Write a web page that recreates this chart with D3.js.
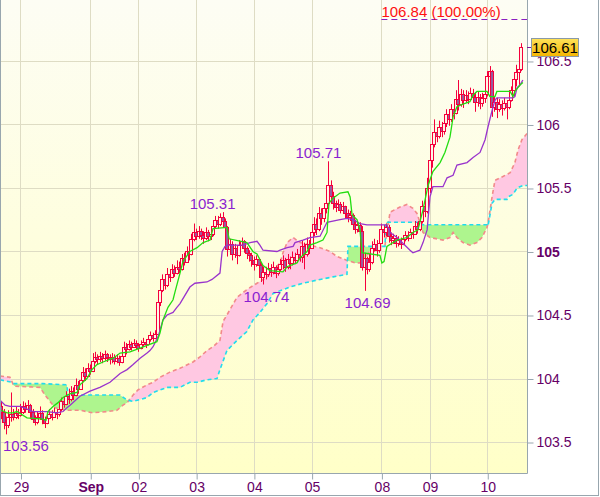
<!DOCTYPE html>
<html><head><meta charset="utf-8">
<script src="https://cdn.jsdelivr.net/npm/d3@7"></script>
<style>
body{margin:0;background:#fff;}
text{font-family:"Liberation Sans",Arial,sans-serif;}
</style>
</head><body>
<svg id="chart" width="600" height="497"></svg>
<script>
// ---------------- DATA ----------------
const opens=[103.78,103.74,103.66,103.63,103.70,103.72,103.70,103.73,103.71,103.74,103.78,103.76,103.79,103.74,103.68,103.66,103.70,103.73,103.68,103.65,103.69,103.72,103.70,103.74,103.72,103.76,103.82,103.80,103.86,103.84,103.90,103.87,103.95,103.92,103.99,104.05,104.02,104.08,104.06,104.14,104.17,104.15,104.18,104.16,104.19,104.17,104.15,104.17,104.14,104.16,104.13,104.18,104.25,104.23,104.27,104.25,104.28,104.26,104.24,104.27,104.29,104.27,104.31,104.34,104.32,104.35,104.60,104.70,104.78,104.74,104.82,104.80,104.86,104.83,104.88,104.86,104.95,104.92,105.00,104.98,105.10,105.15,105.12,105.16,105.13,105.11,105.15,105.12,105.14,105.20,105.25,105.22,105.27,105.24,105.19,105.02,105.06,104.98,105.03,104.97,105.05,105.08,105.03,104.99,104.97,104.93,104.90,104.94,104.89,104.80,104.84,104.82,104.87,104.84,104.88,104.83,104.86,104.90,104.93,104.88,104.94,104.91,104.96,104.93,104.98,104.96,105.04,104.98,105.06,105.03,105.15,105.22,105.18,105.30,105.26,105.34,105.38,105.52,105.44,105.38,105.35,105.37,105.33,105.36,105.30,105.27,105.29,105.22,105.18,105.21,105.16,104.88,104.95,104.86,104.92,105.03,105.06,105.01,105.07,105.18,105.15,105.19,105.12,105.09,105.11,105.07,105.09,105.06,105.10,105.13,105.11,105.15,105.14,105.20,105.18,105.24,105.36,105.32,105.50,105.72,105.85,105.94,105.91,105.98,105.95,106.01,106.08,106.04,106.12,106.09,106.20,106.16,106.24,106.19,106.23,106.20,106.25,106.22,106.18,106.22,106.17,106.21,106.24,106.38,106.42,106.14,106.18,106.12,106.16,106.13,106.17,106.14,106.19,106.27,106.36,106.41,106.44];
const highs=[103.82,103.76,103.70,103.75,103.89,103.76,103.78,103.76,103.80,103.82,103.81,103.83,103.80,103.76,103.71,103.74,103.78,103.75,103.70,103.73,103.76,103.75,103.77,103.76,103.80,103.85,103.86,103.90,103.92,103.94,103.93,104.00,103.98,104.03,104.09,104.08,104.12,104.11,104.20,104.21,104.19,104.21,104.20,104.22,104.20,104.19,104.20,104.19,104.19,104.18,104.22,104.29,104.28,104.30,104.29,104.31,104.30,104.28,104.30,104.32,104.31,104.34,104.37,104.36,104.38,104.63,104.72,104.82,104.81,104.87,104.86,104.90,104.89,104.93,104.92,104.98,104.99,105.04,105.03,105.14,105.22,105.18,105.20,105.18,105.16,105.19,105.17,105.18,105.24,105.28,105.28,105.30,105.31,105.26,105.20,105.10,105.08,105.06,105.05,105.09,105.11,105.09,105.04,105.01,104.99,104.96,104.97,104.95,104.91,104.88,104.88,104.91,104.90,104.92,104.89,104.90,104.94,104.97,104.95,104.98,104.96,105.00,104.99,105.02,105.01,105.09,105.07,105.11,105.09,105.19,105.27,105.26,105.35,105.34,105.38,105.42,105.71,105.56,105.47,105.40,105.41,105.39,105.39,105.36,105.33,105.32,105.30,105.25,105.24,105.23,105.20,104.99,104.96,104.98,105.08,105.10,105.09,105.11,105.22,105.21,105.22,105.21,105.15,105.14,105.13,105.12,105.11,105.13,105.16,105.16,105.18,105.18,105.24,105.23,105.28,105.40,105.40,105.58,105.78,105.92,106.04,105.98,106.03,106.02,106.06,106.12,106.11,106.16,106.15,106.27,106.35,106.28,106.27,106.27,106.26,106.29,106.28,106.25,106.26,106.24,106.25,106.29,106.42,106.46,106.43,106.22,106.21,106.20,106.19,106.21,106.19,106.23,106.30,106.40,106.47,106.50,106.64];
const lows=[103.68,103.60,103.56,103.61,103.66,103.67,103.68,103.68,103.70,103.72,103.73,103.74,103.68,103.65,103.63,103.64,103.68,103.64,103.61,103.64,103.68,103.67,103.69,103.68,103.70,103.74,103.77,103.79,103.80,103.82,103.83,103.86,103.88,103.91,103.97,103.98,104.01,104.03,104.05,104.12,104.11,104.13,104.12,104.14,104.13,104.11,104.12,104.11,104.12,104.10,104.12,104.17,104.19,104.22,104.22,104.24,104.23,104.21,104.23,104.25,104.24,104.26,104.29,104.29,104.31,104.33,104.57,104.68,104.70,104.72,104.76,104.79,104.80,104.82,104.83,104.85,104.89,104.91,104.93,104.97,105.08,105.09,105.10,105.09,105.06,105.09,105.08,105.09,105.12,105.18,105.18,105.20,105.19,105.12,104.96,104.99,104.93,104.95,104.90,104.96,105.02,104.99,104.94,104.92,104.88,104.85,104.88,104.84,104.76,104.74,104.78,104.80,104.80,104.82,104.79,104.81,104.84,104.86,104.84,104.86,104.86,104.89,104.90,104.91,104.92,104.91,104.86,104.96,104.98,105.02,105.12,105.13,105.16,105.21,105.23,105.30,105.36,105.38,105.33,105.31,105.32,105.30,105.30,105.26,105.23,105.24,105.17,105.14,105.15,105.12,104.85,104.69,104.82,104.84,104.90,105.00,104.96,104.99,105.06,105.11,105.12,105.07,105.05,105.06,105.03,105.04,105.02,105.05,105.08,105.08,105.10,105.10,105.13,105.14,105.16,105.22,105.27,105.30,105.46,105.66,105.82,105.86,105.89,105.90,105.92,105.98,105.99,106.02,106.04,106.08,106.11,106.14,106.13,106.17,106.16,106.19,106.17,106.10,106.14,106.12,106.14,106.17,106.22,106.33,106.06,106.10,106.05,106.10,106.07,106.11,106.04,106.12,106.18,106.22,106.30,106.30,106.42];
const closes=[103.74,103.66,103.63,103.70,103.72,103.70,103.73,103.71,103.74,103.78,103.76,103.79,103.74,103.68,103.66,103.70,103.73,103.68,103.65,103.69,103.72,103.70,103.74,103.72,103.76,103.82,103.80,103.86,103.84,103.90,103.87,103.95,103.92,103.99,104.05,104.02,104.08,104.06,104.14,104.17,104.15,104.18,104.16,104.19,104.17,104.15,104.17,104.14,104.16,104.13,104.18,104.25,104.23,104.27,104.25,104.28,104.26,104.24,104.27,104.29,104.27,104.31,104.34,104.32,104.35,104.60,104.70,104.78,104.74,104.82,104.80,104.86,104.83,104.88,104.86,104.95,104.92,105.00,104.98,105.10,105.15,105.12,105.16,105.13,105.11,105.15,105.12,105.14,105.20,105.25,105.22,105.27,105.24,105.19,105.02,105.06,104.98,105.03,104.97,105.05,105.08,105.03,104.99,104.97,104.93,104.90,104.94,104.89,104.80,104.84,104.82,104.87,104.84,104.88,104.83,104.86,104.90,104.93,104.88,104.94,104.91,104.96,104.93,104.98,104.96,105.04,104.98,105.06,105.03,105.15,105.22,105.18,105.30,105.26,105.34,105.38,105.52,105.44,105.38,105.35,105.37,105.33,105.36,105.30,105.27,105.29,105.22,105.18,105.21,105.16,104.88,104.95,104.86,104.92,105.03,105.06,105.01,105.07,105.18,105.15,105.19,105.12,105.09,105.11,105.07,105.09,105.06,105.10,105.13,105.11,105.15,105.14,105.20,105.18,105.24,105.36,105.32,105.50,105.72,105.85,105.94,105.91,105.98,105.95,106.01,106.08,106.04,106.12,106.09,106.20,106.16,106.24,106.19,106.23,106.20,106.25,106.22,106.18,106.22,106.17,106.21,106.24,106.38,106.42,106.14,106.18,106.12,106.16,106.13,106.17,106.14,106.19,106.27,106.36,106.41,106.44,106.61];

// Tenkan-sen (green) vertices: bar index / value
const tenkanIdx=[0,2.4,4.9,6.5,10.7,17.4,18.6,19.4,21.5,23.6,25.7,28.6,31.5,32.7,35.6,37.7,39.8,42.3,46.5,49.4,53.5,57.7,60.6,64.7,66,67.2,69.3,71.4,72.2,74.3,75.5,78.4,81.4,83.9,86.8,88,93.8,94.7,102.1,104.6,106.3,108.8,111.7,117.1,118.8,122.9,124.2,127.1,128.3,131.2,133.7,135.4,136.2,137.9,140.8,144.1,145,145.8,147.9,149.1,149.9,157.4,158.2,159.1,160.3,164.5,168.6,171.1,173.2,175.3,177.4,179.4,182.4,184.4,186.5,187.8,189.4,191.9,194.8,196.1,197.7,201.9,203.1,205.2,206,211.5,212.7,213.5,215.6,216.8];
const tenkanVal=[103.75,103.73,103.73,103.74,103.69,103.68,103.67,103.74,103.78,103.81,103.85,103.88,103.89,103.95,104.00,104.07,104.11,104.13,104.16,104.20,104.21,104.24,104.26,104.29,104.36,104.46,104.56,104.62,104.68,104.83,104.92,105.00,105.03,105.07,105.09,105.18,105.19,105.10,105.07,105.00,104.98,104.89,104.85,104.84,104.88,104.91,104.95,105.00,105.05,105.07,105.09,105.15,105.38,105.42,105.46,105.47,105.43,105.29,105.25,105.17,104.99,104.97,104.91,104.92,105.04,105.09,105.11,105.15,105.17,105.33,105.52,105.63,105.70,105.78,105.90,106.06,106.14,106.16,106.18,106.23,106.26,106.26,106.22,106.22,106.26,106.26,106.22,106.26,106.31,106.33];

// Kijun-sen (purple) vertices
const kijunIdx=[-0.5,1.6,3.6,7.8,10.7,13.2,19,23.2,25.7,27.3,28.6,32.7,36.9,41,45.2,49.4,52.3,54.8,57.7,60.6,61.8,63.1,65.2,67.2,68.9,71.4,73,74.3,78.4,80.5,85.5,87.6,90.9,91.8,93,94.2,100.5,103.4,106.3,107.5,108.8,114.6,115.9,118.8,121.3,122.1,125.4,128.3,132.5,135.4,140.8,143.7,146.2,149.1,152,160.3,161.6,164.5,169.9,171.1,174,175.3,177,178.2,179.4,183.6,185.3,187.8,189.4,193.6,196.1,199,201.1,202.3,204,205.2,206,212.7,213.5,214.4,215.6,216.8];
const kijunVal=[103.83,103.79,103.78,103.78,103.76,103.74,103.74,103.73,103.74,103.77,103.79,103.86,103.90,103.93,103.97,104.04,104.07,104.11,104.16,104.20,104.22,104.25,104.33,104.46,104.50,104.52,104.56,104.59,104.72,104.75,104.76,104.78,104.83,105.00,105.04,105.05,105.05,105.07,105.08,105.05,105.01,105.00,105.01,105.03,105.04,105.07,105.09,105.11,105.12,105.23,105.25,105.26,105.25,105.22,105.21,105.21,105.15,105.11,105.01,104.99,105.01,105.07,105.17,105.43,105.51,105.51,105.58,105.60,105.68,105.70,105.74,105.78,105.88,105.98,106.11,106.19,106.21,106.21,106.22,106.29,106.31,106.35];

// Senkou span A (salmon) vertices
const spanAIdx=[-0.5,3.6,5.3,16.1,18.2,22.3,27.3,32.7,38.1,44,48.1,50.6,52.3,54.8,56.8,60.6,63.1,66,70.1,74.3,79.7,82.6,85.5,88,90.9,92.2,93.8,98,102.1,106.3,110.5,115.9,117.1,118.8,121.3,124.2,128.3,132.5,136.6,139.6,143.7,147.2,150.4,153.3,159.5,161.6,165.7,168.6,171.1,172.8,174,175.3,178.2,183.6,186.5,187.8,189.4,191.9,194.8,197.7,199.8,201.9,202.3,204,205.2,208.5,211.5,213.5,214.8,216.4,218.6];
const spanAVal=[104.02,104.01,103.94,103.93,103.87,103.77,103.75,103.75,103.73,103.74,103.75,103.79,103.81,103.87,103.91,103.95,103.97,104.01,104.05,104.08,104.13,104.17,104.22,104.25,104.30,104.45,104.50,104.64,104.70,104.75,104.80,104.91,104.99,105.07,105.11,105.07,105.05,105.03,105.00,104.96,104.93,104.91,104.91,105.01,105.05,105.31,105.35,105.37,105.34,105.30,105.23,105.15,105.11,105.09,105.11,105.15,105.11,105.07,105.05,105.07,105.11,105.19,105.22,105.43,105.56,105.59,105.62,105.70,105.80,105.88,105.93];

// Senkou span B (cyan) vertices
const spanBIdx=[-0.5,4.5,5.3,17.4,27.3,27.7,49.4,52.3,54.8,60.6,63.1,66,68.9,74.3,78.4,81.4,85.5,89.7,90.9,93.8,98,102.1,104.6,107.5,110.5,113,117.1,120,125.4,132.5,137.9,143.7,144.1,159.5,159.9,174,174.5,201.9,202.3,204,205.2,210.2,210.6,212.7,214.4,216.8,218.6];
const spanBVal=[103.99,103.97,103.96,103.96,103.95,103.87,103.87,103.83,103.82,103.85,103.89,103.91,103.93,103.93,103.97,103.97,103.99,104.00,104.07,104.22,104.30,104.37,104.46,104.52,104.59,104.67,104.70,104.72,104.75,104.78,104.80,104.82,105.04,105.04,105.23,105.23,105.21,105.21,105.20,105.38,105.41,105.41,105.43,105.45,105.50,105.52,105.52];

// Axis ticks
const yTicks=[103.5,104,104.5,105,105.5,106,106.5];
const yTickLabels=["103.5","104","104.5","105","105.5","106","106.5"];
const dayIdx=[8,37,57,81,105,129,158,178,202];
const dayLabels=["29","Sep","02","03","04","05","08","09","10"];

// High / low marks
const markIdx=[2,92,109,136,151];
const markVal=[103.56,105.31,104.74,105.71,104.69];
const markType=["low","high","low","high","low"];

// Top level line
const levelValue=106.84, levelPct="100.00%", levelStartIdx=158;

// ---------------- DRAW ----------------
const svg=d3.select("#chart");
const PW=527, PH=473;
const x=d3.scaleLinear().domain([-0.52,218.52]).range([0,PW]);
const y=d3.scaleLinear().domain([103.256,106.98]).range([PH,0]);

const defs=svg.append("defs");
const bg=defs.append("linearGradient").attr("id","bg").attr("x1",0).attr("y1",0).attr("x2",0).attr("y2",1);
bg.append("stop").attr("offset","0").attr("stop-color","#fdfdf4");
bg.append("stop").attr("offset","1").attr("stop-color","#ffffc8");
const gold=defs.append("linearGradient").attr("id","gold").attr("x1",0).attr("y1",0).attr("x2",0).attr("y2",1);
gold.append("stop").attr("offset","0").attr("stop-color","#ffe35a");
gold.append("stop").attr("offset","1").attr("stop-color","#f4b400");
defs.append("clipPath").attr("id","plot").append("rect").attr("x",0).attr("y",0).attr("width",PW).attr("height",PH);

svg.append("rect").attr("width",600).attr("height",497).attr("fill","#fff");
svg.append("rect").attr("x",0).attr("y",0).attr("width",PW).attr("height",PH).attr("fill","url(#bg)");

// grid
const grid=svg.append("g").attr("stroke","#dedcc4").attr("stroke-width",1);
grid.selectAll(".gy").data(yTicks).join("line")
  .attr("x1",0).attr("x2",PW).attr("y1",d=>Math.round(y(d))+0.5).attr("y2",d=>Math.round(y(d))+0.5);
grid.selectAll(".gx").data(dayIdx).join("line")
  .attr("y1",0).attr("y2",PH).attr("x1",d=>Math.round(x(d))+0.5).attr("x2",d=>Math.round(x(d))+0.5);

const plot=svg.append("g").attr("clip-path","url(#plot)");

// cloud
const A=spanAIdx.map((d,i)=>[x(d),y(spanAVal[i])]);
const B=spanBIdx.map((d,i)=>[x(d),y(spanBVal[i])]);
const poly=d3.line();
const between=poly(A.concat(B.slice().reverse()))+"Z";
const aboveB=poly(B.concat([[B[B.length-1][0],-20],[B[0][0],-20]]))+"Z";
const belowB=poly(B.concat([[B[B.length-1][0],PH+20],[B[0][0],PH+20]]))+"Z";
defs.append("clipPath").attr("id","cAbove").append("path").attr("d",aboveB);
defs.append("clipPath").attr("id","cBelow").append("path").attr("d",belowB);
plot.append("g").attr("clip-path","url(#cAbove)").append("path").attr("d",between).attr("fill","#ffc8e2");
plot.append("g").attr("clip-path","url(#cBelow)").append("path").attr("d",between).attr("fill","#aef58e");
plot.append("path").attr("d",poly(A)).attr("fill","none").attr("stroke","#f28a8a").attr("stroke-width",1.6).attr("stroke-dasharray","4,3");
plot.append("path").attr("d",poly(B)).attr("fill","none").attr("stroke","#20dcee").attr("stroke-width",1.6).attr("stroke-dasharray","4,3");

// candles
const red="#f5003c";
const bars=d3.range(closes.length);
const cg=plot.append("g");
cg.selectAll("line.w").data(bars).join("line")
  .attr("x1",i=>Math.round(x(i))+0.5).attr("x2",i=>Math.round(x(i))+0.5)
  .attr("y1",i=>y(highs[i])).attr("y2",i=>y(lows[i]))
  .attr("stroke",red).attr("stroke-width",1);
cg.selectAll("rect.b").data(bars).join("rect")
  .attr("x",i=>Math.round(x(i))-1.5)
  .attr("y",i=>Math.round(y(Math.max(opens[i],closes[i])))+0.5)
  .attr("width",3)
  .attr("height",i=>Math.max(1,Math.round(y(Math.min(opens[i],closes[i])))-Math.round(y(Math.max(opens[i],closes[i])))))
  .attr("fill",i=>closes[i]<opens[i]?"#9a5a9c":"#fff6e6")
  .attr("stroke",red).attr("stroke-width",1);

// tenkan / kijun
const ln=d3.line().x(d=>x(d[0])).y(d=>y(d[1]));
plot.append("path").attr("d",ln(kijunIdx.map((d,i)=>[d,kijunVal[i]])))
  .attr("fill","none").attr("stroke","#9933cc").attr("stroke-width",1.3);
plot.append("path").attr("d",ln(tenkanIdx.map((d,i)=>[d,tenkanVal[i]])))
  .attr("fill","none").attr("stroke","#22dd11").attr("stroke-width",1.3);

// level line
const ly=Math.round(y(levelValue))+1.5;
svg.append("line").attr("x1",x(levelStartIdx)).attr("x2",PW).attr("y1",ly).attr("y2",ly)
  .attr("stroke","#8a1fc0").attr("stroke-width",1.2).attr("stroke-dasharray","6,4");
svg.append("text").attr("x",x(levelStartIdx)).attr("y",ly-3).attr("fill","#ff1010")
  .attr("font-size",15).text(levelValue.toFixed(2)+" ("+levelPct+")");

// high/low marks
svg.selectAll("text.mk").data(markIdx).join("text")
  .attr("x",(d,k)=>{const px=x(d); if(px<40) return 3; return markType[k]==="high"?px-10:px+3;})
  .attr("y",(d,k)=>markType[k]==="high"?y(markVal[k])-3:y(markVal[k])+17)
  .attr("text-anchor",d=>x(d)<40?"start":"middle")
  .attr("font-size",15).attr("fill","#8a1fd0")
  .text((d,k)=>markVal[k].toFixed(2));

// borders
const bc="#98a6ae";
svg.append("line").attr("x1",PW+0.5).attr("x2",PW+0.5).attr("y1",0).attr("y2",PH+0.5).attr("stroke",bc);
svg.append("line").attr("x1",0).attr("x2",PW+0.5).attr("y1",PH+0.5).attr("y2",PH+0.5).attr("stroke",bc);
svg.append("line").attr("x1",0.5).attr("x2",0.5).attr("y1",0).attr("y2",496).attr("stroke",bc);
svg.append("line").attr("x1",598.5).attr("x2",598.5).attr("y1",0).attr("y2",496).attr("stroke",bc);
svg.append("line").attr("x1",0).attr("x2",599).attr("y1",495.5).attr("y2",495.5).attr("stroke",bc);

// axes
const yAxis=d3.axisRight(y).tickValues(yTicks).tickFormat((d,i)=>yTickLabels[i]).tickSize(6).tickPadding(3);
const ya=svg.append("g").attr("transform",`translate(${PW+0.5},0.5)`).call(yAxis);
ya.select(".domain").remove();
ya.selectAll("line").attr("stroke",bc);
ya.selectAll("text").attr("font-size",14).attr("fill","#660066")
  .attr("font-family","'Liberation Sans',Arial,sans-serif")
  .attr("font-weight",d=>d===105?"bold":"normal");

const xAxis=d3.axisBottom(x).tickValues(dayIdx).tickFormat((d,i)=>dayLabels[i]).tickSize(6).tickPadding(3);
const xa=svg.append("g").attr("transform",`translate(0.5,${PH+0.5})`).call(xAxis);
xa.select(".domain").remove();
xa.selectAll("line").attr("stroke",bc);
xa.selectAll("text").attr("font-size",14).attr("fill","#660066")
  .attr("font-family","'Liberation Sans',Arial,sans-serif")
  .attr("font-weight",(d,i)=>dayLabels[i]==="Sep"?"bold":"normal");

// last price box
const last=closes[closes.length-1];
const py=y(last);
svg.append("line").attr("x1",PW).attr("x2",PW+5).attr("y1",Math.round(py)+0.5).attr("y2",Math.round(py)+0.5).attr("stroke","#7a1a9a");
svg.append("rect").attr("x",531.5).attr("y",Math.round(py)-8.5).attr("width",47).attr("height",18)
  .attr("fill","url(#gold)").attr("stroke","#8a9aa8");
svg.append("text").attr("x",555).attr("y",Math.round(py)+6).attr("text-anchor","middle")
  .attr("font-size",15).attr("fill","#000").text(last.toFixed(2));
</script>
</body></html>
